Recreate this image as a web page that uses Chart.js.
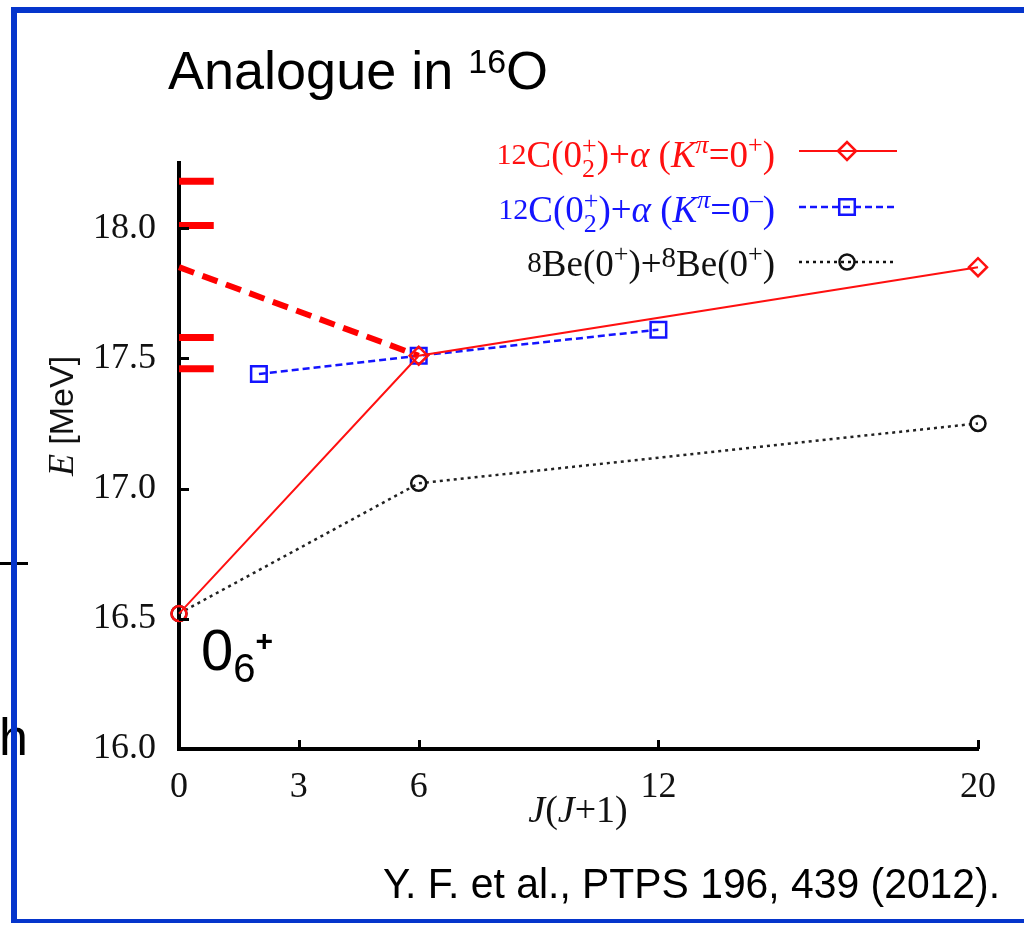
<!DOCTYPE html>
<html>
<head>
<meta charset="utf-8">
<script src="https://cdn.jsdelivr.net/npm/chart.js@4.4.0/dist/chart.umd.min.js"></script>
<style>
  html, body { margin: 0; padding: 0; background: #fff; overflow: hidden; }
  canvas { display: block; }
</style>
</head>
<body>
<canvas id="c" width="1024" height="925" style="width:1024px;height:925px"></canvas>
<script>
// ---- data -------------------------------------------------------------
const xTickValues = [0, 3, 6, 12, 20];            // J(J+1)
const yTickValues = [16.0, 16.5, 17.0, 17.5, 18.0]; // E [MeV]

// 12C(0_2^+) + alpha, K^pi = 0^+ band
const jRed = [0, 6, 20];
const eRed = [16.52, 17.51, 17.85];
// 12C(0_2^+) + alpha, K^pi = 0^- band
const jBlue = [2, 6, 12];
const eBlue = [17.44, 17.51, 17.61];
// 8Be(0^+) + 8Be(0^+)
const jBlack = [0, 6, 20];
const eBlack = [16.52, 17.02, 17.25];

// band-head extrapolation (thick dashed)
const jExtrap = [0, 6];
const eExtrap = [17.85, 17.51];

// observed levels marked as short bars on the energy axis
const levelEnergies = [18.18, 18.01, 17.58, 17.46];
const levelSpan = [0, 0.87];

// ---- fonts & colours --------------------------------------------------
const SERIF = '"Liberation Serif", "DejaVu Serif", serif';
const SANS = '"Liberation Sans", Arial, sans-serif';
const RED = '#ff1010';
const BLUE = '#1414ff';
const FRAME = '#0535cc';

const pts = (xs, ys) => xs.map((x, i) => ({ x: x, y: ys[i] }));

const datasets = [];
levelEnergies.forEach(e => {
  datasets.push({
    data: pts(levelSpan, [e, e]),
    showLine: true, borderColor: '#ff0000', borderWidth: 7,
    borderCapStyle: 'butt', pointRadius: 0, clip: false, order: 5
  });
});
datasets.push({
  data: pts(jBlack, eBlack), showLine: true,
  borderColor: '#222', borderWidth: 2.5, borderDash: [3, 4],
  pointStyle: 'circle', pointRadius: 7.5, pointBorderWidth: 2.5,
  pointBorderColor: '#111', pointBackgroundColor: 'rgba(0,0,0,0)',
  clip: false, order: 4
});
datasets.push({
  data: pts(jBlue, eBlue), showLine: true,
  borderColor: BLUE, borderWidth: 2.5, borderDash: [7, 4],
  pointStyle: 'rect', pointRadius: 11, pointBorderWidth: 2.5,
  pointBorderColor: BLUE, pointBackgroundColor: 'rgba(0,0,0,0)',
  clip: false, order: 3
});
datasets.push({
  data: pts(jExtrap, eExtrap), showLine: true,
  borderColor: '#ff0000', borderWidth: 6, borderDash: [16, 9],
  borderCapStyle: 'butt', pointRadius: 0, clip: false, order: 2
});
datasets.push({
  data: pts(jRed, eRed), showLine: true,
  borderColor: RED, borderWidth: 2,
  pointStyle: ['circle', 'rectRot', 'rectRot'], pointRadius: [7.5, 9, 9],
  pointBorderWidth: 2.5, pointBorderColor: RED,
  pointBackgroundColor: 'rgba(0,0,0,0)', clip: false, order: 1
});

// ---- rich text helper (sub/superscripts, mixed fonts) ------------------
function drawRich(ctx, parts, x, y, align, color) {
  let pen = 0, pending = 0;
  const placed = [];
  parts.forEach(p => {
    ctx.font = p.f;
    const w = ctx.measureText(p.t).width;
    placed.push({ p: p, x: pen });
    if (p.keep) { pending = Math.max(pending, w); }
    else { pen += Math.max(pending, w); pending = 0; }
  });
  const total = pen + pending;
  let x0 = x;
  if (align === 'right') x0 = x - total;
  else if (align === 'center') x0 = x - total / 2;
  ctx.fillStyle = color;
  ctx.textAlign = 'left';
  ctx.textBaseline = 'alphabetic';
  placed.forEach(o => {
    ctx.font = o.p.f;
    ctx.fillText(o.p.t, x0 + o.x, y + (o.p.dy || 0));
  });
  return total;
}

const N37 = `37px ${SERIF}`;
const I37 = `italic 37px ${SERIF}`;
const S26 = `26px ${SERIF}`;
const labelKPlus = [
  { t: '12', f: `30px ${SERIF}`, dy: -3 }, { t: 'C(0', f: N37 },
  { t: '2', f: S26, dy: 10, keep: true }, { t: '+', f: S26, dy: -13 },
  { t: ')+', f: N37 }, { t: '\u03b1', f: I37 }, { t: ' (', f: N37 },
  { t: 'K', f: I37 }, { t: '\u03c0', f: `italic 26px ${SERIF}`, dy: -14 },
  { t: '=0', f: N37 }, { t: '+', f: S26, dy: -14 }, { t: ')', f: N37 }
];
const labelKMinus = [
  { t: '12', f: `30px ${SERIF}`, dy: -3 }, { t: 'C(0', f: N37 },
  { t: '2', f: S26, dy: 10, keep: true }, { t: '+', f: S26, dy: -13 },
  { t: ')+', f: N37 }, { t: '\u03b1', f: I37 }, { t: ' (', f: N37 },
  { t: 'K', f: I37 }, { t: '\u03c0', f: `italic 26px ${SERIF}`, dy: -14 },
  { t: '=0', f: N37 }, { t: '\u2013', f: S26, dy: -14 }, { t: ')', f: N37 }
];
const labelBeBe = [
  { t: '8', f: `29px ${SERIF}`, dy: -4 }, { t: 'Be(0', f: N37 },
  { t: '+', f: S26, dy: -14 }, { t: ')+', f: N37 },
  { t: '8', f: `29px ${SERIF}`, dy: -9 }, { t: 'Be(0', f: N37 },
  { t: '+', f: S26, dy: -14 }, { t: ')', f: N37 }
];

const legendRows = [
  { parts: labelKPlus, color: RED, base: 167, lineY: 151, dash: [], lw: 2, style: 'rectRot', r: 9, stroke: RED },
  { parts: labelKMinus, color: BLUE, base: 222, lineY: 207, dash: [7, 4], lw: 2.5, style: 'rect', r: 11, stroke: BLUE },
  { parts: labelBeBe, color: '#111', base: 276, lineY: 262, dash: [3, 4], lw: 2.5, style: 'circle', r: 7.5, stroke: '#111' }
];

// ---- decorations drawn on top of the chart -----------------------------
const decorations = {
  id: 'decorations',
  afterDraw(chart) {
    const ctx = chart.ctx;
    const xs = chart.scales.x, ys = chart.scales.y;
    const area = chart.chartArea;
    ctx.save();

    // inward tick marks
    ctx.strokeStyle = '#000';
    ctx.lineWidth = 3;
    ctx.setLineDash([]);
    xs.ticks.forEach(t => {
      if (t.value === 0) return;
      const px = Math.round(xs.getPixelForValue(t.value)) + 0.5;
      ctx.beginPath(); ctx.moveTo(px, area.bottom); ctx.lineTo(px, area.bottom - 9); ctx.stroke();
    });
    ys.ticks.forEach(t => {
      if (t.value === 16) return;
      const py = Math.round(ys.getPixelForValue(t.value)) + 0.5;
      ctx.beginPath(); ctx.moveTo(area.left, py); ctx.lineTo(area.left + 10, py); ctx.stroke();
    });

    // axis titles
    ctx.save();
    ctx.translate(73, 416);
    ctx.rotate(-Math.PI / 2);
    drawRich(ctx, [{ t: 'E', f: `italic 36px ${SERIF}` }, { t: ' [MeV]', f: `34px ${SANS}` }], 0, 0, 'center', '#111');
    ctx.restore();
    drawRich(ctx, [
      { t: 'J', f: `italic 38px ${SERIF}` }, { t: '(', f: `38px ${SERIF}` },
      { t: 'J', f: `italic 38px ${SERIF}` }, { t: '+1)', f: `38px ${SERIF}` }
    ], 578, 822, 'center', '#111');

    // legend
    legendRows.forEach(row => {
      drawRich(ctx, row.parts, 775, row.base, 'right', row.color);
      ctx.strokeStyle = row.stroke;
      ctx.lineWidth = row.lw;
      ctx.setLineDash(row.dash);
      ctx.beginPath(); ctx.moveTo(799, row.lineY); ctx.lineTo(897, row.lineY); ctx.stroke();
      ctx.setLineDash([]);
      ctx.lineWidth = 2.5;
      ctx.fillStyle = 'rgba(0,0,0,0)';
      Chart.helpers.drawPoint(ctx, { pointStyle: row.style, radius: row.r, borderWidth: 2.5, rotation: 0 }, 847, row.lineY);
    });

    // title
    drawRich(ctx, [
      { t: 'Analogue in ', f: `54px ${SANS}` },
      { t: '16', f: `34px ${SANS}`, dy: -16 },
      { t: 'O', f: `54px ${SANS}` }
    ], 168, 89, 'left', '#000');

    // state label
    drawRich(ctx, [
      { t: '0', f: `58px ${SANS}` },
      { t: '6', f: `40px ${SANS}`, dy: 12 },
      { t: '+', f: `bold 30px ${SANS}`, dy: -19 }
    ], 201, 670, 'left', '#000');

    // reference
    ctx.font = `42px ${SANS}`;
    ctx.fillStyle = '#000';
    ctx.textAlign = 'right';
    ctx.textBaseline = 'alphabetic';
    ctx.fillText('Y. F. et al., PTPS 196, 439 (2012).', 1000, 898, 617);

    // neighbouring slide content at the left margin
    ctx.fillStyle = '#000';
    ctx.fillRect(0, 562, 28, 3);
    ctx.font = `52px ${SANS}`;
    ctx.textAlign = 'left';
    ctx.fillText('h', -1, 755);

    // slide frame
    ctx.fillStyle = FRAME;
    ctx.fillRect(11, 7, 1013, 6);
    ctx.fillRect(11, 7, 6, 916);
    ctx.fillRect(11, 919, 1013, 4);

    ctx.restore();
  }
};

new Chart(document.getElementById('c'), {
  type: 'scatter',
  data: { datasets: datasets },
  options: {
    responsive: false,
    animation: false,
    devicePixelRatio: 1,
    layout: { padding: { top: 163, right: 46, left: 0, bottom: 0 } },
    plugins: { legend: { display: false }, tooltip: { enabled: false } },
    scales: {
      x: {
        type: 'linear', min: 0, max: 20,
        afterBuildTicks: s => { s.ticks = xTickValues.map(v => ({ value: v })); },
        afterFit: s => { s.height = 176; },
        grid: { display: false, drawTicks: false, tickLength: 0 },
        border: { display: true, width: 4, color: '#000' },
        ticks: {
          padding: 17, autoSkip: false, maxRotation: 0, color: '#111',
          font: { family: SERIF, size: 36 },
          callback: v => String(v)
        }
      },
      y: {
        type: 'linear', min: 16, max: 18.25,
        afterBuildTicks: s => { s.ticks = yTickValues.map(v => ({ value: v })); },
        afterFit: s => { s.width = 179; },
        grid: { display: false, drawTicks: false, tickLength: 0 },
        border: { display: true, width: 4, color: '#000' },
        ticks: {
          padding: 23, color: '#111',
          font: { family: SERIF, size: 36 },
          callback: v => Number(v).toFixed(1)
        }
      }
    }
  },
  plugins: [decorations]
});
</script>
</body>
</html>
